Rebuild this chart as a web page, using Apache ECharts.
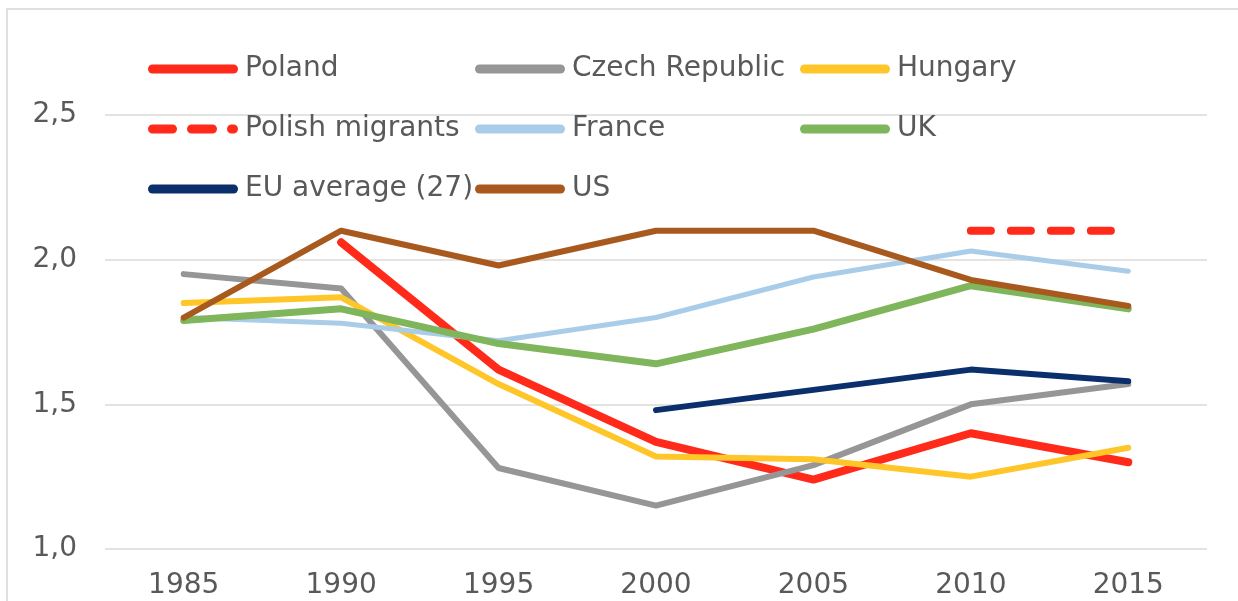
<!DOCTYPE html>
<html><head><meta charset="utf-8">
<script src="https://cdn.jsdelivr.net/npm/echarts@6/dist/echarts.min.js"></script>
<style>html,body{margin:0;padding:0;background:#fff}#c{width:1238px;height:601px}</style>
</head><body><div id="c"></div>
<script>
const years = ['1985','1990','1995','2000','2005','2010','2015'];
const poland   = [null, 2.06, 1.62, 1.37, 1.24, 1.40, 1.30];
const czech    = [1.95, 1.90, 1.28, 1.15, 1.29, 1.50, 1.57];
const hungary  = [1.85, 1.87, 1.57, 1.32, 1.31, 1.25, 1.35];
const polishMigrants = [null, null, null, null, null, 2.10, 2.10];
const france   = [1.80, 1.78, 1.72, 1.80, 1.94, 2.03, 1.96];
const uk       = [1.79, 1.83, 1.71, 1.64, 1.76, 1.91, 1.83];
const euAvg    = [null, null, null, 1.48, 1.55, 1.62, 1.58];
const us       = [1.80, 2.10, 1.98, 2.10, 2.10, 1.93, 1.84];

const FONT = 'DejaVu Sans';
const TXT = '#595959';
const SOLID_ICON = 'path://M4.5,0H85.5A4.5,4.5 0 0 1 85.5,9H4.5A4.5,4.5 0 0 1 4.5,0Z';
const DASH_ICON = 'path://M4.5,0H24.5A4.5,4.5 0 0 1 24.5,9H4.5A4.5,4.5 0 0 1 4.5,0Z' +
  'M43.5,0H64.5A4.5,4.5 0 0 1 64.5,9H43.5A4.5,4.5 0 0 1 43.5,0Z' +
  'M83.5,0H85.5A4.5,4.5 0 0 1 85.5,9H83.5A4.5,4.5 0 0 1 83.5,0Z';
const defs = [
  {name:'Poland', data:poland, color:'#FF2A1A', w:8, type:'solid', lx:148, ly:55},
  {name:'Czech Republic', data:czech, color:'#969696', w:6, type:'solid', lx:475, ly:55},
  {name:'Hungary', data:hungary, color:'#FFC62A', w:6, type:'solid', lx:800, ly:55},
  {name:'Polish migrants', data:polishMigrants, color:'#FF2A1A', w:8, type:[20,20], lx:148, ly:115},
  {name:'France', data:france, color:'#A9CCE8', w:5, type:'solid', lx:475, ly:115},
  {name:'UK', data:uk, color:'#7FB55B', w:7, type:'solid', lx:800, ly:115},
  {name:'EU average (27)', data:euAvg, color:'#0A2F6B', w:6, type:'solid', lx:148, ly:175},
  {name:'US', data:us, color:'#A85A1E', w:6, type:'solid', lx:475, ly:175}
];

const series = defs.map(d => ({
  name:d.name, type:'line', data:d.data, symbol:'none', showSymbol:false,
  connectNulls:false, color:d.color,
  lineStyle:{color:d.color, width:d.w, type:d.type, cap:'round', join:'round'},
  emphasis:{disabled:true}, animation:false
}));

const legends = defs.map(d => ({
  data:[{name:d.name, icon: Array.isArray(d.type) ? DASH_ICON : SOLID_ICON}],
  left:d.lx, top:d.ly, padding:0, itemWidth:90, itemHeight:9, symbolKeepAspect:false,
  itemGap:0, selectedMode:false,
  itemStyle:{color:d.color, borderWidth:0, opacity:1},
  lineStyle:{opacity:0},
  textStyle:{fontFamily:FONT, fontSize:28, color:TXT, padding:[0,0,0,2]}
}));

const chart = echarts.init(document.getElementById('c'), null, {renderer:'canvas'});
chart.setOption({
  animation:false,
  backgroundColor:'#fff',
  graphic:[{type:'rect', shape:{x:7, y:9, width:1240, height:600}, style:{fill:'none', stroke:'#e0e0e0', lineWidth:2}, silent:true, z:-1}],
  legend: legends,
  grid:{left:105, right:31, top:115, bottom:52, containLabel:false},
  xAxis:{type:'category', data:years, boundaryGap:true,
    axisLine:{show:false}, axisTick:{show:false},
    axisLabel:{fontFamily:FONT, fontSize:28, color:TXT, margin:23},
    splitLine:{show:false}},
  yAxis:{type:'value', min:1, max:2.5, interval:0.5,
    axisLine:{show:false}, axisTick:{show:false},
    axisLabel:{fontFamily:FONT, fontSize:28, color:TXT, margin:28,
      formatter:v => v.toFixed(1).replace('.', ',')},
    splitLine:{lineStyle:{color:'#e3e3e3', width:2}}},
  series: series
});
</script></body></html>
